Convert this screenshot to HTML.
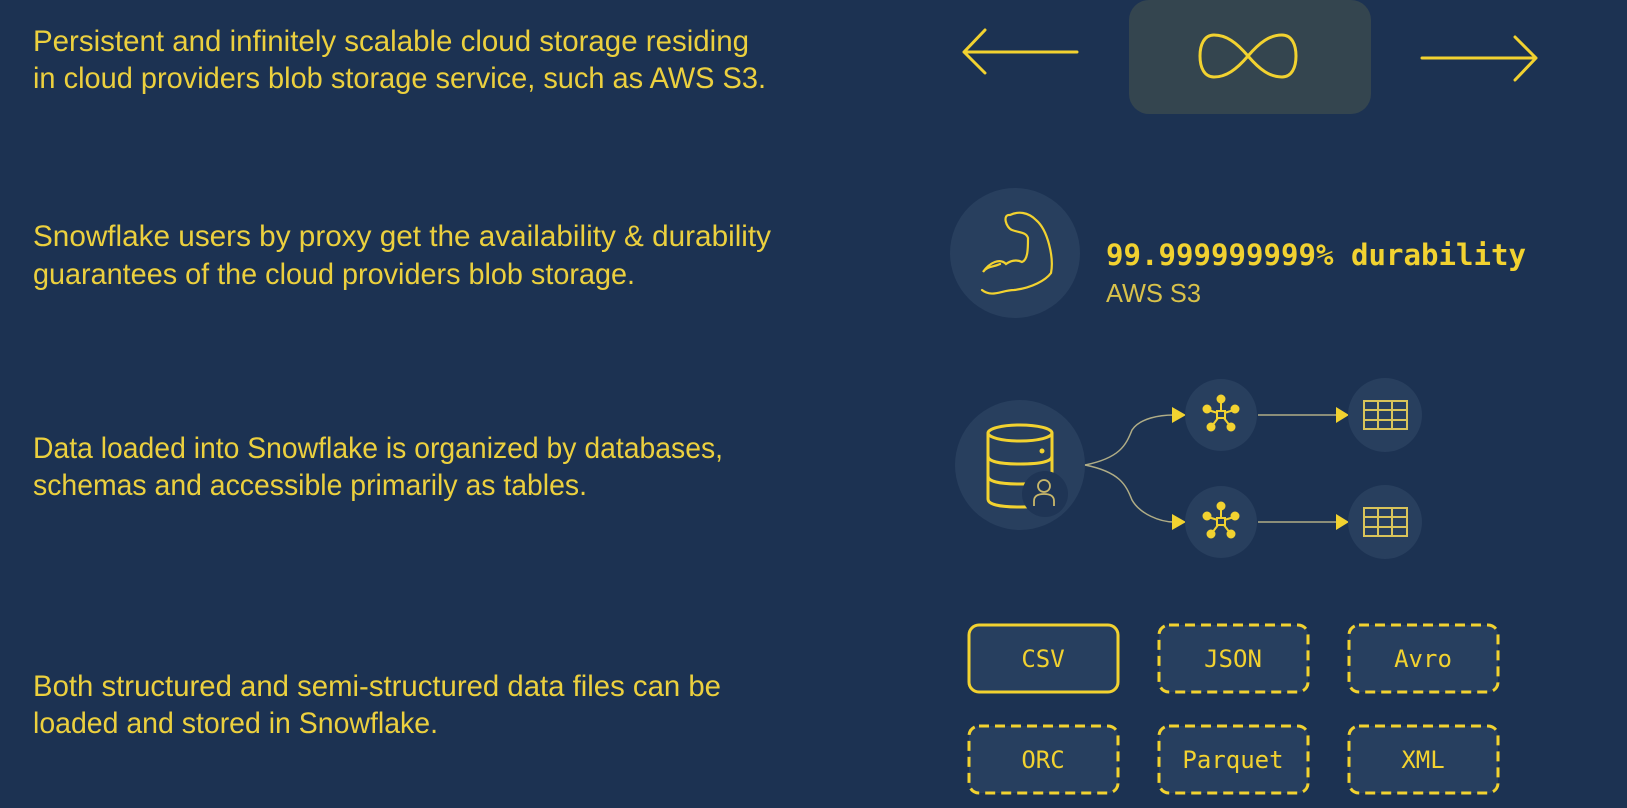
<!DOCTYPE html>
<html><head><meta charset="utf-8"><style>
html,body{margin:0;padding:0;background:#1c3252;}
svg{display:block}
</style></head><body>
<svg width="1627" height="808" viewBox="0 0 1627 808" xmlns="http://www.w3.org/2000/svg">
<rect width="1627" height="808" fill="#1c3252"/>
<g font-family="Liberation Sans, sans-serif" font-size="30" fill="#ecd03e">
<text x="33" y="51" textLength="716" lengthAdjust="spacingAndGlyphs">Persistent and infinitely scalable cloud storage residing</text>
<text x="33" y="88" textLength="733" lengthAdjust="spacingAndGlyphs">in cloud providers blob storage service, such as AWS S3.</text>
<text x="33" y="246" textLength="738" lengthAdjust="spacingAndGlyphs">Snowflake users by proxy get the availability &amp; durability</text>
<text x="33" y="284" textLength="602" lengthAdjust="spacingAndGlyphs">guarantees of the cloud providers blob storage.</text>
<text x="33" y="458" textLength="690" lengthAdjust="spacingAndGlyphs">Data loaded into Snowflake is organized by databases,</text>
<text x="33" y="495" textLength="554" lengthAdjust="spacingAndGlyphs">schemas and accessible primarily as tables.</text>
<text x="33" y="696" textLength="688" lengthAdjust="spacingAndGlyphs">Both structured and semi-structured data files can be</text>
<text x="33" y="733" textLength="405" lengthAdjust="spacingAndGlyphs">loaded and stored in Snowflake.</text>
</g>
<!-- infinity -->
<rect x="1129" y="0" width="242" height="114" rx="20" fill="#34454f"/>
<path d="M1248 56 C1236 42 1226 35 1214 35 C1204 35 1200 45 1200 56 C1200 67 1204 77 1214 77 C1226 77 1236 70 1248 56 C1260 42 1270 35 1282 35 C1292 35 1296 45 1296 56 C1296 67 1292 77 1282 77 C1270 77 1260 70 1248 56 Z" fill="none" stroke="#f2d230" stroke-width="3"/>
<g stroke="#f2d230" stroke-width="3" fill="none" stroke-linecap="round" stroke-linejoin="round">
<path d="M1077 52 H964 M985 30 L964 52 L985 73"/>
<path d="M1422 58 H1536 M1515 37 L1536 58 L1515 80"/>
</g>
<!-- muscle -->
<circle cx="1015" cy="253" r="65" fill="#283f5e"/>
<path d="M1010 215 C1002 214 1006 228 1012 230 C1020 233 1026 232 1028 238 C1028 248 1028 260 1022 262 C1016 259 1010 261 1006 264 C1000 258 990 262 983 272 C987 266 994 267 1000 264 M982 290 C992 298 1002 290 1014 290 C1032 288 1046 280 1051 273 C1054 258 1048 230 1036 220 C1028 212 1018 211 1010 215" fill="none" stroke="#f2d230" stroke-width="2.2" stroke-linecap="round"/>
<text x="1106" y="265" font-family="DejaVu Sans Mono, Liberation Mono, monospace" font-weight="bold" font-size="29" fill="#f2d230" textLength="420" lengthAdjust="spacingAndGlyphs">99.999999999% durability</text>
<text x="1106" y="302" font-family="Liberation Sans, sans-serif" font-size="26" fill="#d9c24a" textLength="95" lengthAdjust="spacingAndGlyphs">AWS S3</text>
<!-- database -->
<circle cx="1020" cy="465" r="65" fill="#283f5e"/>
<g fill="none" stroke="#f2d230" stroke-width="3">
<ellipse cx="1020" cy="433" rx="32" ry="8"/>
<path d="M988 433 V499 Q988 507 1020 507 Q1052 507 1052 499 V433"/>
<path d="M988 456 Q988 464 1020 464 Q1052 464 1052 456"/>
<path d="M988 476 Q988 484 1020 484 Q1052 484 1052 476"/>
</g>
<circle cx="1042" cy="451" r="2.5" fill="#f2d230"/>
<circle cx="1045" cy="494" r="23" fill="#1f3555"/>
<g fill="none" stroke="#c9b86a" stroke-width="1.8">
<circle cx="1044" cy="486" r="6"/>
<path d="M1034 506 V501 Q1034 494 1044 494 Q1054 494 1054 501 V506"/>
</g>
<!-- curves -->
<g fill="none" stroke="#b0ad86" stroke-width="1.5">
<path d="M1085 465 C1120 458 1126 445 1132 430 C1140 418 1160 415 1174 415"/>
<path d="M1085 465 C1120 472 1126 485 1132 500 C1140 514 1160 522 1174 522"/>
<path d="M1258 415 H1336"/><path d="M1258 522 H1336"/>
</g>
<g fill="#f2d230">
<path d="M1172 407 L1186 415 L1172 423 Z"/><path d="M1172 514 L1186 522 L1172 530 Z"/>
<path d="M1336 407 L1349 415 L1336 423 Z"/><path d="M1336 514 L1349 522 L1336 530 Z"/>
</g>
<circle cx="1221" cy="415" r="36" fill="#283f5e"/>
<circle cx="1221" cy="522" r="36" fill="#283f5e"/>
<circle cx="1385" cy="415" r="37" fill="#283f5e"/>
<circle cx="1385" cy="522" r="37" fill="#283f5e"/>
<g fill="#f2d230" stroke="#f2d230" stroke-width="2">
<path d="M1221 414 L1221 400 M1221 414 L1208 410 M1221 414 L1234 410 M1221 414 L1212 426 M1221 414 L1230 426" fill="none"/>
<circle cx="1221" cy="399" r="3.5"/><circle cx="1207" cy="409" r="3.5"/><circle cx="1235" cy="409" r="3.5"/><circle cx="1211" cy="427" r="3.5"/><circle cx="1231" cy="427" r="3.5"/>
<rect x="1217" y="411" width="8" height="7" fill="#283f5e"/>
</g>
<g fill="#f2d230" stroke="#f2d230" stroke-width="2">
<path d="M1221 521 L1221 507 M1221 521 L1208 517 M1221 521 L1234 517 M1221 521 L1212 533 M1221 521 L1230 533" fill="none"/>
<circle cx="1221" cy="506" r="3.5"/><circle cx="1207" cy="516" r="3.5"/><circle cx="1235" cy="516" r="3.5"/><circle cx="1211" cy="534" r="3.5"/><circle cx="1231" cy="534" r="3.5"/>
<rect x="1217" y="518" width="8" height="7" fill="#283f5e"/>
</g>
<g fill="none" stroke="#d9c45a" stroke-width="2">
<rect x="1364" y="401" width="43" height="28"/><path d="M1378 401 V429 M1392 401 V429 M1364 410 H1407 M1364 420 H1407"/>
<rect x="1364" y="508" width="43" height="28"/><path d="M1378 508 V536 M1392 508 V536 M1364 517 H1407 M1364 527 H1407"/>
</g>
<!-- format boxes -->
<g fill="#273f5f" stroke="#f2d230" stroke-width="3">
<rect x="969" y="625" width="149" height="67" rx="10"/>
<g stroke-dasharray="10 6">
<rect x="1159" y="625" width="149" height="67" rx="10"/>
<rect x="1349" y="625" width="149" height="67" rx="10"/>
<rect x="969" y="726" width="149" height="67" rx="10"/>
<rect x="1159" y="726" width="149" height="67" rx="10"/>
<rect x="1349" y="726" width="149" height="67" rx="10"/>
</g>
</g>
<g font-family="DejaVu Sans Mono, Liberation Mono, monospace" font-size="24" fill="#f2d230" text-anchor="middle">
<text x="1043" y="667">CSV</text><text x="1233" y="667">JSON</text><text x="1423" y="667">Avro</text>
<text x="1043" y="768">ORC</text><text x="1233" y="768">Parquet</text><text x="1423" y="768">XML</text>
</g>
</svg>
</body></html>
